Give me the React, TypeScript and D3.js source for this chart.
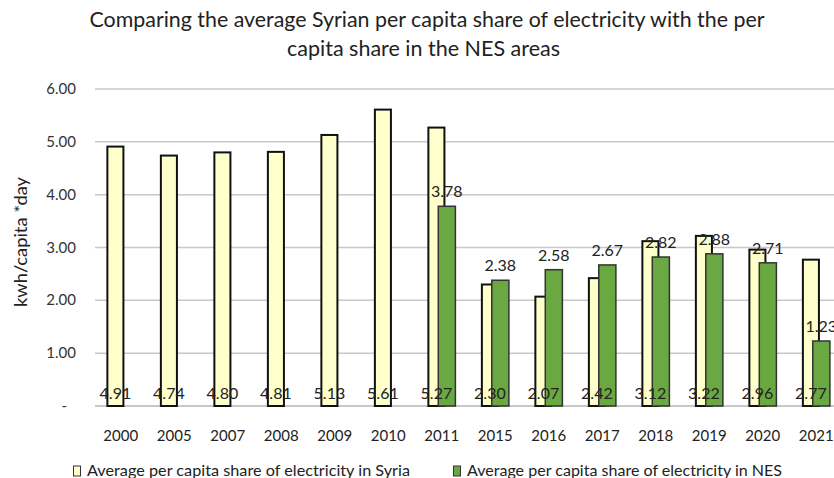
import React from "react";
import * as d3 from "d3";

const years = ["2000", "2005", "2007", "2008", "2009", "2010", "2011", "2015", "2016", "2017", "2018", "2019", "2020", "2021"];
const syria = [4.91, 4.74, 4.8, 4.81, 5.13, 5.61, 5.27, 2.3, 2.07, 2.42, 3.12, 3.22, 2.96, 2.77];
const nes: (number | null)[] = [null, null, null, null, null, null, 3.78, 2.38, 2.58, 2.67, 2.82, 2.88, 2.71, 1.23];
const yTicks = [0, 1, 2, 3, 4, 5, 6];
const titleLines = [
  "Comparing the average Syrian per capita share of electricity with the per",
  "capita share in the NES areas",
];
const legendLabels = [
  "Average per capita share of electricity in Syria",
  "Average per capita share of electricity in NES",
];

const W = 834;
const H = 478;
const FONT = "Lato, 'Open Sans', sans-serif";
const YELLOW = "#FFFFCC";
const GREEN = "#6AA842";

export default function App() {
  const x = d3.scaleBand<string>().domain(years).range([94, 843]).padding(0);
  const y = d3.scaleLinear().domain([0, 6]).range([406, 89]);
  const bw = x.bandwidth();
  const yW = bw * 0.3;
  const gW = bw * 0.32;
  const yOff = bw * 0.25;
  const gOff = bw * 0.435;

  return (
    <svg
      width={W}
      height={H}
      style={{ position: "absolute", left: 0, top: 0, background: "#fff" }}
      fontFamily={FONT}
    >
      <rect width={W} height={H} fill="#fff" />
      <text x={427} y={27} textAnchor="middle" fontSize={21} fill="#222" textLength={675} lengthAdjust="spacingAndGlyphs">
        {titleLines[0]}
      </text>
      <text x={423.5} y={56} textAnchor="middle" fontSize={21} fill="#222" textLength={273} lengthAdjust="spacingAndGlyphs">
        {titleLines[1]}
      </text>
      {yTicks.map((t) => (
        <g key={t}>
          <line x1={95} x2={W} y1={y(t)} y2={y(t)} stroke="#c8c8c8" strokeWidth={t === 0 ? 2 : 1.5} />
          <text x={t === 0 ? 67 : 76} y={y(t) + 5} textAnchor="end" fontSize={15} fill="#333">
            {t === 0 ? "-" : d3.format(".2f")(t)}
          </text>
        </g>
      ))}
      <text
        transform={`translate(27,242) rotate(-90)`}
        textAnchor="middle"
        fontSize={17}
        fill="#222"
        textLength={130}
        lengthAdjust="spacingAndGlyphs"
      >
        kwh/capita *day
      </text>
      {years.map((yr, i) => {
        const x0 = x(yr)!;
        const v = syria[i];
        const n = nes[i];
        return (
          <g key={yr}>
            <rect x={x0 + yOff} y={y(v)} width={yW} height={y(0) - y(v)} fill={YELLOW} stroke="#111" strokeWidth={2} />
            {n != null && (
              <rect x={x0 + gOff} y={y(n)} width={gW} height={y(0) - y(n)} fill={GREEN} stroke="#333" strokeWidth={1.5} />
            )}
          </g>
        );
      })}
      {years.map((yr, i) => {
        const x0 = x(yr)!;
        const n = nes[i];
        return (
          <g key={"l" + yr}>
            <text x={x0 + yOff + yW / 2} y={399} textAnchor="middle" fontSize={16} fill="#222">
              {d3.format(".2f")(syria[i])}
            </text>
            {n != null && (
              <text x={x0 + gOff + gW / 2} y={y(n) - 9} textAnchor="middle" fontSize={16} fill="#222">
                {d3.format(".2f")(n)}
              </text>
            )}
            <text x={x0 + bw / 2} y={441} textAnchor="middle" fontSize={15} fill="#222">
              {yr}
            </text>
          </g>
        );
      })}
      <g>
        <rect x={73.5} y={466} width={7} height={10} fill={YELLOW} stroke="#333" strokeWidth={1} />
        <text x={87} y={476} fontSize={16} fill="#222" textLength={323} lengthAdjust="spacingAndGlyphs">
          {legendLabels[0]}
        </text>
        <rect x={453.5} y={466} width={7} height={10} fill={GREEN} stroke="#333" strokeWidth={1} />
        <text x={467} y={476} fontSize={16} fill="#222" textLength={315} lengthAdjust="spacingAndGlyphs">
          {legendLabels[1]}
        </text>
      </g>
    </svg>
  );
}
